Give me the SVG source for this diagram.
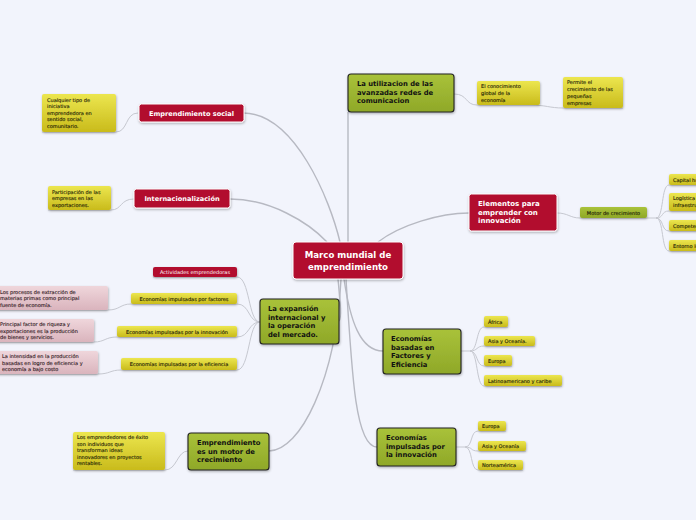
<svg xmlns="http://www.w3.org/2000/svg" width="696" height="520" viewBox="0 0 696 520">
<defs>
<linearGradient id="yel" x1="0" y1="0" x2="0" y2="1"><stop offset="0" stop-color="#ece64f"/><stop offset="1" stop-color="#c9bb1b"/></linearGradient>
<linearGradient id="pink" x1="0" y1="0" x2="0" y2="1"><stop offset="0" stop-color="#efd6db"/><stop offset="1" stop-color="#dab4bd"/></linearGradient>
<linearGradient id="grn" x1="0" y1="0" x2="0" y2="1"><stop offset="0" stop-color="#a9c23a"/><stop offset="1" stop-color="#8fa828"/></linearGradient>
<filter id="sh" x="-10%" y="-20%" width="130%" height="150%"><feDropShadow dx="0.5" dy="1.2" stdDeviation="0.9" flood-color="#000" flood-opacity="0.3"/></filter>
</defs>
<style>
.c{fill:none;stroke:#b7b9c2;stroke-width:1.4}
.cs{fill:none;stroke:#c6c8d0;stroke-width:1}
.red{fill:#b20c2e;stroke:#fff;stroke-width:1;filter:url(#sh)}
.gr{fill:url(#grn);stroke:#222;stroke-width:1.1;filter:url(#sh)}
.y{fill:url(#yel);filter:url(#sh)}
.p{fill:url(#pink);filter:url(#sh)}
text{font-family:"DejaVu Sans",Verdana,sans-serif}
.tw{fill:#fff;font-weight:bold;font-size:6.6px}
.tc{fill:#fff;font-weight:bold;font-size:8.6px}
.tg{fill:#111;font-weight:bold;font-size:6.8px}
.ts{fill:#1c1c05;font-size:5px;stroke:#1c1c05;stroke-width:0.12}
.tsw{fill:#fff;font-size:5px}
.tp{fill:#2e161b;font-size:5px;stroke:#2e161b;stroke-width:0.12}
</style>
<rect width="696" height="520" fill="#f2f4fc"/>
<g id="connectors">
<path class="c" d="M243,113 C295,113 330,200 340,242"/>
<path class="c" d="M230,199 C270,199 308,222 327,242"/>
<path class="c" d="M348,112 L348,242"/>
<path class="c" d="M378,242 C400,225 440,213 469,213"/>
<path class="c" d="M338,279 C340,300 342,318 339,321"/>
<path class="c" d="M344,279 C350,320 360,351 383,351"/>
<path class="c" d="M346,279 C352,380 356,447 377,447"/>
<path class="c" d="M341,279 C336,380 300,451 269,451"/>
<path class="cs" d="M138,113 C125,113 128,132 116,132 L42,132"/>
<path class="cs" d="M134,199 C120,199 122,210 111,210 L48,210"/>
<path class="cs" d="M454,94 C468,94 465,105 477,105 L531,105 C545,105 550,108 563,108 L623,108"/>
<path class="cs" d="M557,213 C568,213 570,218 580,218 L656,218"/>
<path class="cs" d="M656,218 C664,218 661,185 669,185 L696,185"/>
<path class="cs" d="M656,218 C664,218 661,211 669,211 L696,211"/>
<path class="cs" d="M656,218 C664,218 661,231 669,231 L696,231"/>
<path class="cs" d="M656,218 C664,218 661,251 669,251 L696,251"/>
<path class="cs" d="M260,322 C248,322 250,277 237,277 L153,277"/>
<path class="cs" d="M260,322 C248,322 250,304 237,304 L131,304"/>
<path class="cs" d="M260,322 C248,322 250,337 237,337 L117,337"/>
<path class="cs" d="M260,322 C248,322 250,370 237,370 L121,370"/>
<path class="cs" d="M131,304 C120,304 120,310 108,310 L0,310"/>
<path class="cs" d="M117,337 C105,337 105,342 94,342 L0,342"/>
<path class="cs" d="M121,370 C110,370 110,374 98,374 L0,374"/>
<path class="cs" d="M461,351 L470,351 C478,351 476,327 484,327 L508,327"/>
<path class="cs" d="M470,351 C478,351 476,346 484,346 L535,346"/>
<path class="cs" d="M470,351 C478,351 476,366 484,366 L512,366"/>
<path class="cs" d="M470,351 C478,351 476,386 484,386 L562,386"/>
<path class="cs" d="M456,447 L465,447 C473,447 470,431 478,431 L506,431"/>
<path class="cs" d="M465,447 C473,447 470,451 478,451 L526,451"/>
<path class="cs" d="M465,447 C473,447 470,470 478,470 L523,470"/>
<path class="cs" d="M188,451 C177,451 177,470 165,470 L73,470"/>
</g>
<g id="central"><rect class="red" x="293" y="242" width="110" height="37" rx="3"/><text class="tc" x="348" y="258" text-anchor="middle">Marco mundial de</text><text class="tc" x="348" y="270" text-anchor="middle">emprendimiento</text></g>
<g id="emp-social"><rect class="red" x="139" y="104" width="105" height="18" rx="2.5"/><text class="tw" x="191.5" y="115.5" text-anchor="middle">Emprendimiento social</text></g>
<g id="note-social"><rect class="y" x="42" y="94" width="74" height="38" rx="2"/><text class="ts"><tspan x="47" y="101.5">Cualquier tipo de</tspan><tspan x="47" y="108">iniciativa</tspan><tspan x="47" y="114.5">emprendedora en</tspan><tspan x="47" y="121">sentido social,</tspan><tspan x="47" y="127.5">comunitario.</tspan></text></g>
<g id="internac"><rect class="red" x="134" y="189" width="96" height="19" rx="2.5"/><text class="tw" x="182" y="201" text-anchor="middle">Internacionalización</text></g>
<g id="note-internac"><rect class="y" x="48" y="186" width="63" height="24" rx="2"/><text class="ts"><tspan x="52" y="193.5">Participación de las</tspan><tspan x="52" y="200">empresas en las</tspan><tspan x="52" y="206.5">exportaciones.</tspan></text></g>
<g id="utilizacion"><rect class="gr" x="348" y="74" width="106" height="38" rx="3"/><text class="tg"><tspan x="357" y="86">La utilizacion de las</tspan><tspan x="357" y="94.5">avanzadas redes de</tspan><tspan x="357" y="103">comunicacion</tspan></text></g>
<g id="conocimiento"><rect class="y" x="477" y="81" width="63" height="24" rx="2"/><text class="ts"><tspan x="481" y="88">El conocimiento</tspan><tspan x="481" y="95">global de la</tspan><tspan x="481" y="102">economía</tspan></text></g>
<g id="permite"><rect class="y" x="563" y="77" width="60" height="31" rx="2"/><text class="ts"><tspan x="567" y="84">Permite el</tspan><tspan x="567" y="91">crecimiento de las</tspan><tspan x="567" y="98">pequeñas</tspan><tspan x="567" y="104.5">empresas</tspan></text></g>
<g id="elementos"><rect class="red" x="469" y="194" width="88" height="37" rx="2.5"/><text class="tw" style="font-size:7px"><tspan x="478" y="206">Elementos para</tspan><tspan x="478" y="214.5">emprender con</tspan><tspan x="478" y="223">innovación</tspan></text></g>
<g id="motor"><rect class="gr" x="580" y="207" width="67" height="11" rx="2" style="stroke:none"/><text class="ts" x="613.5" y="214.5" text-anchor="middle">Motor de crecimiento</text></g>
<g id="capital"><rect class="y" x="669" y="174" width="40" height="11" rx="2"/><text class="ts" x="673" y="181.5">Capital humano</text></g>
<g id="logistica"><rect class="y" x="669" y="193" width="40" height="18" rx="2"/><text class="ts"><tspan x="673" y="200">Logística e</tspan><tspan x="673" y="207">infraestructura</tspan></text></g>
<g id="competencia"><rect class="y" x="669" y="220" width="40" height="11" rx="2"/><text class="ts" x="673" y="227.5">Competencia</text></g>
<g id="entorno"><rect class="y" x="669" y="240" width="40" height="11" rx="2"/><text class="ts" x="673" y="247.5">Entorno legal</text></g>
<g id="expansion"><rect class="gr" x="260" y="299" width="79" height="45" rx="3"/><text class="tg"><tspan x="268" y="311">La expansión</tspan><tspan x="268" y="319.5">internacional y</tspan><tspan x="268" y="328">la operación</tspan><tspan x="268" y="336.5">del mercado.</tspan></text></g>
<g id="actividades"><rect class="red" x="153" y="267" width="84" height="10" rx="2" style="stroke:none"/><text class="tsw" x="195" y="274" text-anchor="middle">Actividades emprendedoras</text></g>
<g id="eco-factores"><rect class="y" x="131" y="293" width="106" height="11" rx="2"/><text class="ts" x="184" y="300.5" text-anchor="middle">Economías impulsadas por factores</text></g>
<g id="eco-innov"><rect class="y" x="117" y="326" width="120" height="11" rx="2"/><text class="ts" x="177" y="333.5" text-anchor="middle">Economías impulsadas por la innovación</text></g>
<g id="eco-efic"><rect class="y" x="121" y="358" width="116" height="12" rx="2"/><text class="ts" x="179" y="366" text-anchor="middle">Economías impulsadas por la eficiencia</text></g>
<g id="note-factores"><rect class="p" x="-4" y="286" width="112" height="24" rx="2"/><text class="tp"><tspan x="0" y="293.5">Los procesos de extracción de</tspan><tspan x="0" y="300">materias primas como principal</tspan><tspan x="0" y="306.5">fuente de economía.</tspan></text></g>
<g id="note-innov"><rect class="p" x="-4" y="319" width="98" height="23" rx="2"/><text class="tp"><tspan x="0" y="326">Principal factor de riqueza y</tspan><tspan x="0" y="332.5">exportaciones es la producción</tspan><tspan x="0" y="339">de bienes y servicios.</tspan></text></g>
<g id="note-efic"><rect class="p" x="-4" y="351" width="102" height="23" rx="2"/><text class="tp"><tspan x="2" y="358">La intensidad en la producción</tspan><tspan x="2" y="364.5">basadas en logro de eficiencia y</tspan><tspan x="2" y="371">economía a bajo costo</tspan></text></g>
<g id="basadas"><rect class="gr" x="383" y="329" width="78" height="45" rx="3"/><text class="tg"><tspan x="391" y="341">Economías</tspan><tspan x="391" y="349.5">basadas en</tspan><tspan x="391" y="358">Factores y</tspan><tspan x="391" y="366.5">Eficiencia</tspan></text></g>
<g id="africa"><rect class="y" x="484" y="316" width="24" height="11" rx="2"/><text class="ts" x="488" y="323.5">África</text></g>
<g id="asia1"><rect class="y" x="484" y="336" width="51" height="10" rx="2"/><text class="ts" x="488" y="343">Asia y Oceanía.</text></g>
<g id="europa1"><rect class="y" x="484" y="355" width="28" height="11" rx="2"/><text class="ts" x="488" y="362.5">Europa</text></g>
<g id="latino"><rect class="y" x="484" y="375" width="78" height="11" rx="2"/><text class="ts" x="488" y="382.5">Latinoamericano y caribe</text></g>
<g id="impulsadas"><rect class="gr" x="377" y="428" width="79" height="38" rx="3"/><text class="tg"><tspan x="386" y="440">Economías</tspan><tspan x="386" y="448.5">impulsadas por</tspan><tspan x="386" y="457">la innovación</tspan></text></g>
<g id="europa2"><rect class="y" x="478" y="421" width="28" height="10" rx="2"/><text class="ts" x="482" y="428">Europa</text></g>
<g id="asia2"><rect class="y" x="478" y="441" width="48" height="10" rx="2"/><text class="ts" x="482" y="448">Asia y Oceanía</text></g>
<g id="norte"><rect class="y" x="478" y="460" width="45" height="10" rx="2"/><text class="ts" x="482" y="467">Norteamérica</text></g>
<g id="motor-crec"><rect class="gr" x="188" y="433" width="81" height="37" rx="3"/><text class="tg"><tspan x="197" y="445">Emprendimiento</tspan><tspan x="197" y="453.5">es un motor de</tspan><tspan x="197" y="462">crecimiento</tspan></text></g>
<g id="note-motor"><rect class="y" x="73" y="432" width="92" height="38" rx="2"/><text class="ts"><tspan x="77" y="439">Los emprendedores de éxito</tspan><tspan x="77" y="445.5">son individuos que</tspan><tspan x="77" y="452">transforman ideas</tspan><tspan x="77" y="458.5">innovadores en proyectos</tspan><tspan x="77" y="465">rentables.</tspan></text></g>
</svg>
